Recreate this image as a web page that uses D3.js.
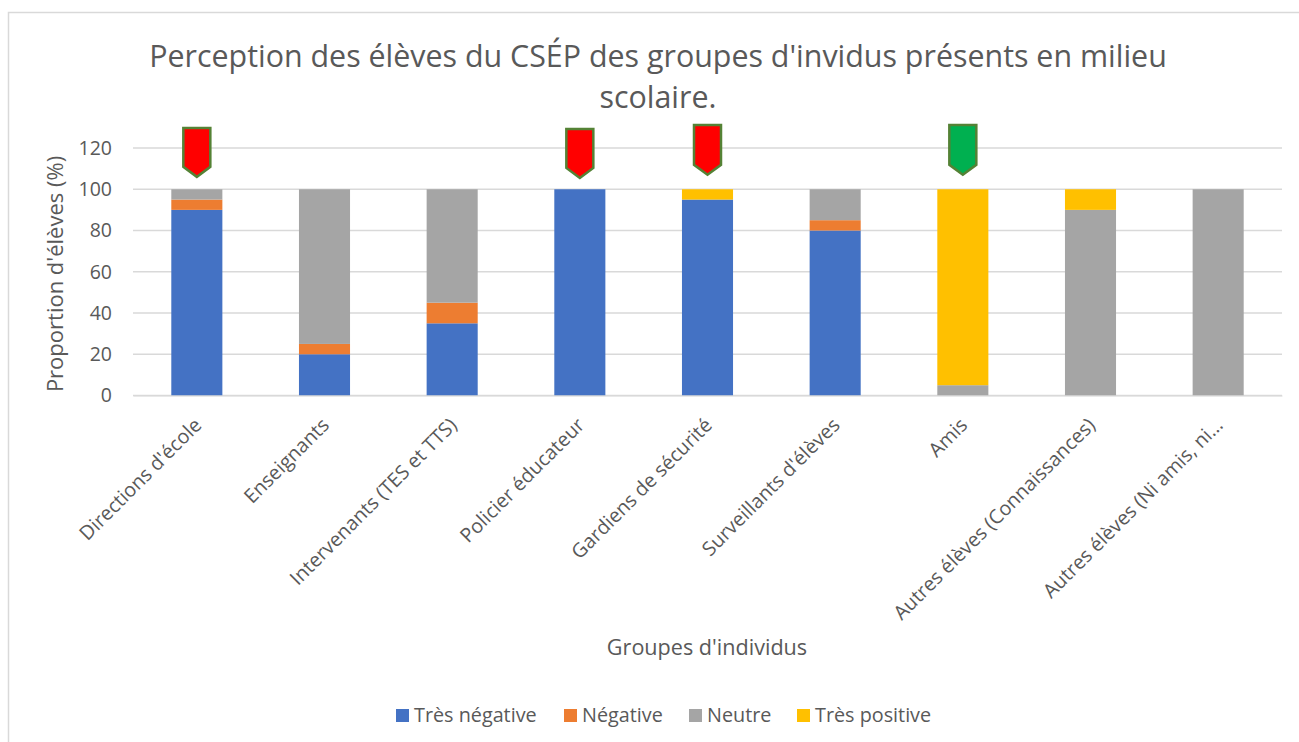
<!DOCTYPE html>
<html><head><meta charset="utf-8">
<script src="https://cdn.jsdelivr.net/npm/d3@7"></script>
<style>html,body{margin:0;padding:0;background:#fff}svg{display:block}text{font-family:"Open Sans",sans-serif;fill:#595959}</style>
</head><body><div id="c"></div>
<script>
const categories=["Directions d'école","Enseignants","Intervenants (TES et TTS)","Policier éducateur","Gardiens de sécurité","Surveillants d'élèves","Amis","Autres élèves (Connaissances)","Autres élèves (Ni amis, ni…"];
const seriesNames=["Très négative","Négative","Neutre","Très positive"];
const seriesColors=["#4472C4","#ED7D31","#A5A5A5","#FFC000"];
const tresNegative=[90,20,35,100,95,80,0,0,0];
const negative=[5,5,10,0,0,5,0,0,0];
const neutre=[5,75,55,0,0,15,5,90,100];
const tresPositive=[0,0,0,0,5,0,95,10,0];
const yTicks=[0,20,40,60,80,100,120];
const markerCategories=[0,3,4,6];
const markerTop=[129.7,129.2,131.2,131.2];
const markerTip=[106,105.5,107,107];
const markerFill=["#FF0000","#FF0000","#FF0000","#00B050"];

const W=1299,H=742;
const svg=d3.select("#c").append("svg").attr("width",W).attr("height",H);
svg.append("path").attr("d",`M8.5 ${H}V12.5H${W}`).attr("fill","none").attr("stroke","#d9d9d9").attr("stroke-width",1.5);

const x=d3.scaleBand().domain(categories).range([133,1282]).paddingInner(0.6).paddingOuter(0.3);
const y=d3.scaleLinear().domain([0,120]).range([395.5,148]);

svg.append("g").selectAll("line").data(yTicks).join("line")
 .attr("x1",133).attr("x2",1282).attr("y1",d=>y(d)).attr("y2",d=>y(d))
 .attr("stroke","#d9d9d9").attr("stroke-width",1.5);

const rows=categories.map((c,i)=>({c,"Très négative":tresNegative[i],"Négative":negative[i],"Neutre":neutre[i],"Très positive":tresPositive[i]}));
const stack=d3.stack().keys(seriesNames)(rows);
svg.append("g").selectAll("g").data(stack).join("g").attr("fill",(d,i)=>seriesColors[i])
 .selectAll("rect").data(d=>d.filter(s=>s[1]>s[0])).join("rect")
 .attr("x",d=>x(d.data.c)).attr("width",x.bandwidth())
 .attr("y",d=>y(d[1])).attr("height",d=>y(d[0])-y(d[1]));

const yAxis=d3.axisLeft(y).tickValues(yTicks).tickSize(0).tickPadding(0);
const gy=svg.append("g").attr("transform","translate(112,0)").call(yAxis);
gy.select(".domain").remove();
gy.selectAll("text").attr("font-size",19.5).style("font-family",'"Open Sans",sans-serif').attr("fill","#595959");

const xAxis=d3.axisBottom(x).tickSize(0);
const gx=svg.append("g").attr("transform","translate(0,395.5)").call(xAxis);
gx.select(".domain").attr("stroke","#d9d9d9");
gx.selectAll("text").attr("font-size",19.7).style("font-family",'"Open Sans",sans-serif').attr("fill","#595959")
 .attr("text-anchor","end").attr("transform","translate(1,26) rotate(-45)").attr("dy","0.35em").attr("y",0);

markerCategories.forEach((ci,i)=>{
 const cx=x(categories[ci])+x.bandwidth()/2, hw=13.5;
 const t=y(markerTop[i]), b=y(markerTip[i]), sh=b-10;
 svg.append("path").attr("d",d3.line()([[cx-hw,t],[cx+hw,t],[cx+hw,sh],[cx,b],[cx-hw,sh]])+"Z")
  .attr("fill",markerFill[i]).attr("stroke","#548235").attr("stroke-width",2.5);
});

svg.append("text").attr("x",658).attr("y",67).attr("text-anchor","middle").attr("font-size",30.4).text("Perception des élèves du CSÉP des groupes d'invidus présents en milieu");
svg.append("text").attr("x",658).attr("y",108).attr("text-anchor","middle").attr("font-size",30.4).text("scolaire.");
svg.append("text").attr("x",707).attr("y",655).attr("text-anchor","middle").attr("font-size",21.6).text("Groupes d'individus");
svg.append("text").attr("transform","translate(63,274) rotate(-90)").attr("text-anchor","middle").attr("font-size",22).text("Proportion d'élèves (%)");

const legX=[396,564,689,797];
const lg=svg.append("g").selectAll("g").data(seriesNames).join("g").attr("transform",(d,i)=>`translate(${legX[i]},709)`);
lg.append("rect").attr("width",13).attr("height",13).attr("fill",(d,i)=>seriesColors[i]);
lg.append("text").attr("x",18).attr("y",13).attr("font-size",19.8).text(d=>d);
</script></body></html>
